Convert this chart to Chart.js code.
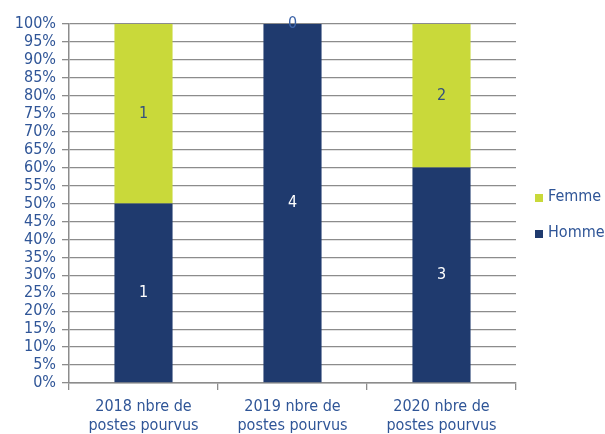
<!DOCTYPE html>
<html><head><meta charset="utf-8">
<script src="https://cdn.jsdelivr.net/npm/chart.js@4/dist/chart.umd.min.js"></script>
<style>html,body{margin:0;padding:0;background:#fff}#wrap{width:605px;height:434px}</style>
</head><body><div id="wrap"><canvas id="c" width="605" height="434"></canvas></div>
<script>
const categories = [["2018 nbre de","postes pourvus"],["2019 nbre de","postes pourvus"],["2020 nbre de","postes pourvus"]];
const hommeCounts = [1, 4, 3];
const femmeCounts = [1, 0, 2];
const seriesNames = ["Homme", "Femme"];

const totals = hommeCounts.map((h,i)=>h+femmeCounts[i]);
const hommePct = hommeCounts.map((h,i)=>h/totals[i]*100);
const femmePct = femmeCounts.map((f,i)=>f/totals[i]*100);

const FONT = '"Liberation Sans Narrow","DejaVu Sans Condensed","Liberation Sans",sans-serif';
const TXT = '#2f5597';
const NAVY = '#1f3a6e';
const LIME = '#c9d93a';

const labelsPlugin = {
  id:'segLabels',
  afterDatasetsDraw(chart){
    const ctx = chart.ctx;
    ctx.save();
    ctx.font = '16px ' + FONT;
    ctx.textAlign='center'; ctx.textBaseline='middle';
    chart.data.datasets.forEach((ds,di)=>{
      const meta = chart.getDatasetMeta(di);
      meta.data.forEach((bar,i)=>{
        const c = ds.counts[i];
        const y = (bar.y + bar.base)/2;
        ctx.fillStyle = c===0 ? '#3d64a8' : (di===0 ? '#ffffff' : '#34507e');
        ctx.fillText(String(c), bar.x, y);
      });
    });
    ctx.restore();
  }
};

const legendPlugin = {
  id:'customLegend',
  afterDraw(chart){
    const ctx = chart.ctx;
    ctx.save();
    ctx.font = '16px ' + FONT;
    ctx.textBaseline='middle'; ctx.textAlign='left';
    const items = [chart.data.datasets[1], chart.data.datasets[0]];
    items.forEach((ds,k)=>{
      const y = 197 + k*36;
      ctx.fillStyle = ds.backgroundColor;
      ctx.fillRect(535, y-3, 8, 8);
      ctx.fillStyle = TXT;
      ctx.fillText(ds.label, 548, y);
    });
    ctx.restore();
  }
};

new Chart(document.getElementById('c'), {
  type:'bar',
  data:{
    labels: categories,
    datasets:[
      {label: seriesNames[0], data: hommePct, counts: hommeCounts, backgroundColor: NAVY},
      {label: seriesNames[1], data: femmePct, counts: femmeCounts, backgroundColor: LIME}
    ]
  },
  plugins:[labelsPlugin, legendPlugin],
  options:{
    responsive:false, animation:false,
    layout:{padding:{top:24,right:89,left:0,bottom:0}},
    datasets:{bar:{categoryPercentage:1, barPercentage:0.39}},
    plugins:{legend:{display:false}, tooltip:{enabled:false}},
    scales:{
      x:{
        stacked:true,
        grid:{drawOnChartArea:false, drawTicks:true, tickLength:7, color:'#8c8c8c', lineWidth:1.3},
        border:{display:true, color:'#8c8c8c', width:1.5},
        ticks:{color:TXT, font:{family:FONT, size:16}, maxRotation:0, padding:7, autoSkip:false},
        afterFit(s){ s.height = 51; }
      },
      y:{
        stacked:true, min:0, max:100,
        grid:{color:'#8c8c8c', lineWidth:1.3, tickLength:7},
        border:{display:true, color:'#8c8c8c', width:1.5},
        ticks:{stepSize:5, autoSkip:false, color:TXT, font:{family:FONT, size:16}, padding:6, callback:v=>v+'%'},
        afterFit(s){ s.width = 69; }
      }
    }
  }
});
</script></body></html>
